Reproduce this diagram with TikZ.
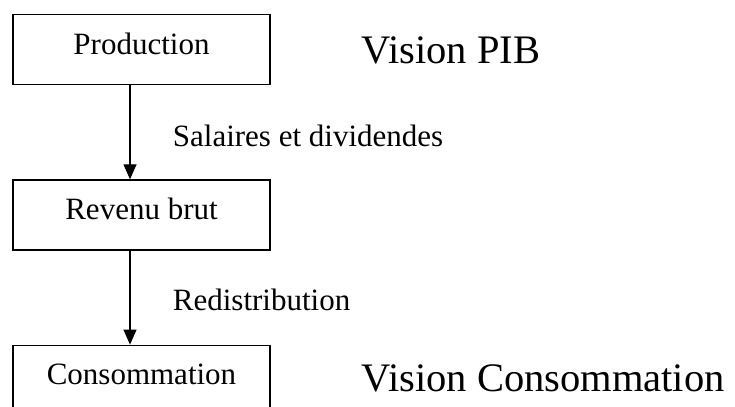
\documentclass[tikz,border=0pt]{standalone}
\usepackage{fontspec}
\setmainfont{Liberation Serif}
\usetikzlibrary{positioning,arrows.meta}

\tikzset{
  flowbox/.style = {draw, line width=0.65pt, inner sep=0pt, minimum width=128.5pt,
    text height=19.75pt, text depth=15.25pt, font=\fontsize{15.5}{18}\selectfont},
  flowlabel/.style = {inner sep=0pt, anchor=base west, font=\fontsize{15.5}{18}\selectfont},
  visionlabel/.style = {inner sep=0pt, anchor=base west, font=\fontsize{20.25}{24}\selectfont},
  flowarrow/.style = {line width=0.65pt, -{Triangle[width=6.5pt,length=7.5pt]}}
}

\begin{document}
\begin{tikzpicture}[x=0.5pt, y=-0.5pt]
\useasboundingbox (0,0) rectangle (735,407);
\clip (0,0) rectangle (735,407);
% the three boxes, one below the other
\node [flowbox, anchor=north] (prod) at (141.5,14) {Production};
\node [flowbox, below=47pt of prod] (rev) {Revenu brut};
\node [flowbox, below=47pt of rev] (cons) {Consommation};
\draw [flowarrow] ([xshift=-5.75pt]prod.south) -- ([xshift=-5.75pt]rev.north);
\draw [flowarrow] ([xshift=-5.75pt]rev.south) -- ([xshift=-5.75pt]cons.north);
\node [flowlabel] (salaires) at (172.5,146) {Salaires et dividendes};
\node [flowlabel] (redis) at (172.5,310) {Redistribution};
\node [visionlabel] (pib) at (361,63) {Vision PIB};
\node [visionlabel] (visioncons) at (361,391) {Vision Consommation};
\end{tikzpicture}
\end{document}
